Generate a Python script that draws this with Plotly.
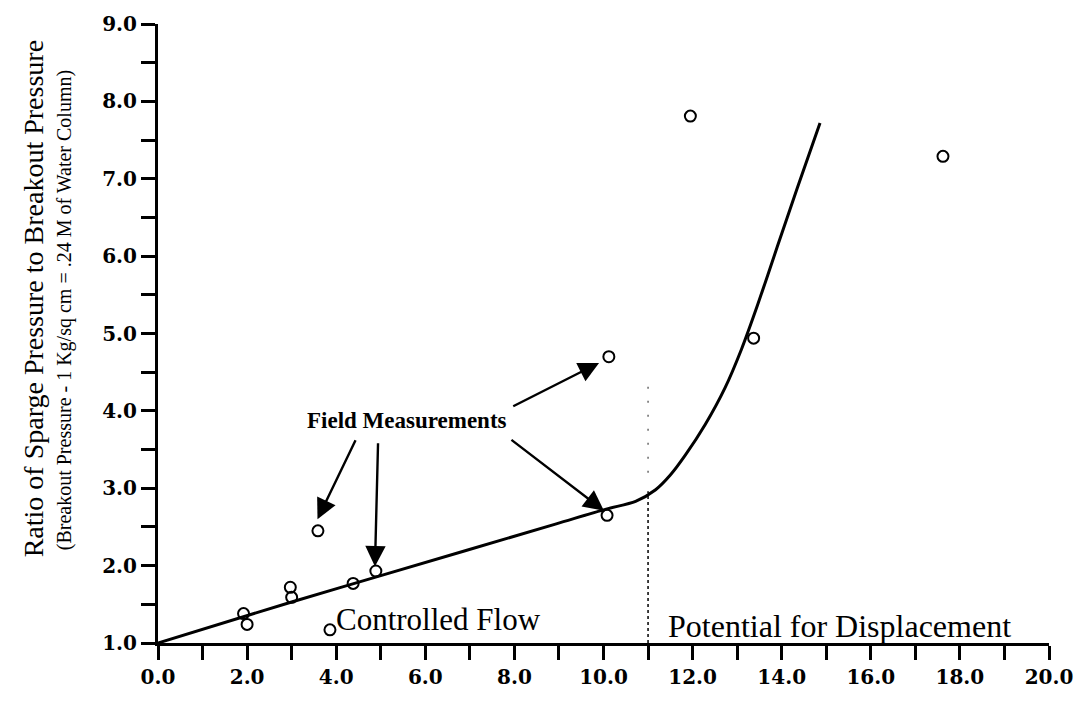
import plotly.graph_objects as go

# Field measurement points (open circles)
meas_x = [1.92, 2.0, 2.97, 3.0, 3.59, 3.86, 4.38, 4.89, 10.08, 10.12, 11.95, 13.37, 17.62]
meas_y = [1.38, 1.24, 1.72, 1.59, 2.45, 1.17, 1.77, 1.93, 2.65, 4.70, 7.81, 4.94, 7.29]

# Fitted curve
curve_x = [0.0, 3.0, 5.0, 8.94, 10.06, 10.72, 11.17, 11.5, 11.84, 12.28, 12.73, 13.1, 13.46, 13.9, 14.35, 14.86]
curve_y = [1.0, 1.53, 1.87, 2.54, 2.73, 2.83, 2.98, 3.17, 3.43, 3.82, 4.30, 4.80, 5.37, 6.12, 6.88, 7.72]

# Boundary between regions
boundary_x = 11.0
boundary_y_low = [1.0, 2.96]
boundary_y_high = [3.2, 4.45]

# Arrows: (tail_x, tail_y, head_x, head_y)
arrow_tail_x = [4.45, 4.94, 7.90, 7.94]
arrow_tail_y = [3.64, 3.60, 3.64, 4.05]
arrow_head_x = [3.58, 4.87, 10.01, 9.90]
arrow_head_y = [2.60, 1.99, 2.71, 4.62]

x_ticks = [0, 2, 4, 6, 8, 10, 12, 14, 16, 18, 20]
y_ticks = [1, 2, 3, 4, 5, 6, 7, 8, 9]

serif = "Liberation Serif, Times New Roman, serif"
tickfont = dict(family="DejaVu Serif, serif", size=20, color="black", weight="bold")

fig = go.Figure()

fig.add_trace(go.Scatter(
    x=[boundary_x, boundary_x], y=boundary_y_low, mode="lines",
    line=dict(color="black", width=1.5, dash="dot"), showlegend=False, hoverinfo="skip"))
fig.add_trace(go.Scatter(
    x=[boundary_x, boundary_x], y=boundary_y_high, mode="lines",
    line=dict(color="#444444", width=1.2, dash="2px,12px"), showlegend=False, hoverinfo="skip"))

fig.add_trace(go.Scatter(
    x=curve_x, y=curve_y, mode="lines",
    line=dict(color="black", width=3, shape="spline", smoothing=0.8),
    showlegend=False, hoverinfo="skip"))

fig.add_trace(go.Scatter(
    x=meas_x, y=meas_y, mode="markers",
    marker=dict(symbol="circle-open", size=11, color="black", line=dict(width=2)),
    cliponaxis=False, showlegend=False))

for tx, ty, hx, hy in zip(arrow_tail_x, arrow_tail_y, arrow_head_x, arrow_head_y):
    fig.add_annotation(
        x=hx, y=hy, ax=tx, ay=ty, xref="x", yref="y", axref="x", ayref="y",
        text="", showarrow=True, arrowhead=2, arrowsize=1.7, arrowwidth=2.4,
        arrowcolor="black", standoff=0, startstandoff=0)

fig.add_annotation(x=5.6, y=3.88, xref="x", yref="y", text="<b>Field Measurements</b>",
                   showarrow=False, font=dict(family=serif, size=23, color="black"))
fig.add_annotation(x=6.3, y=1.31, xref="x", yref="y", text="Controlled Flow",
                   showarrow=False, font=dict(family=serif, size=31, color="black"))
fig.add_annotation(x=15.3, y=1.22, xref="x", yref="y", text="Potential for Displacement",
                   showarrow=False, font=dict(family=serif, size=32, color="black"))

# Y-axis titles (two lines, different sizes)
fig.add_annotation(x=0, y=(643 - 296) / 625, xref="paper", yref="paper", xshift=33 - 158,
                   xanchor="center", yanchor="middle",
                   text="Ratio of Sparge Pressure to Breakout Pressure", textangle=-90,
                   showarrow=False, font=dict(family=serif, size=28, color="black"))
fig.add_annotation(x=0, y=(643 - 307) / 625, xref="paper", yref="paper", xshift=64 - 158,
                   xanchor="center", yanchor="middle",
                   text="(Breakout Pressure - 1 Kg/sq cm = .24 M of Water Column)", textangle=-90,
                   showarrow=False, font=dict(family=serif, size=20, color="black"))

# small extension of the y-axis line below the x-axis
fig.add_shape(type="line", xref="x", yref="paper", x0=0, x1=0, y0=0, y1=-0.022,
              line=dict(color="black", width=3))

fig.update_xaxes(
    range=[0, 20], tickvals=x_ticks, ticktext=[f"{v:.1f}" for v in x_ticks],
    showline=True, linecolor="black", linewidth=3, showgrid=False, zeroline=False,
    ticks="outside", ticklen=14, tickwidth=3, tickcolor="black", tickfont=tickfont,
    minor=dict(dtick=1, ticks="outside", ticklen=14, tickwidth=3, tickcolor="black"))
fig.update_yaxes(
    range=[1, 9], tickvals=y_ticks, ticktext=[f"{v:.1f}" for v in y_ticks],
    showline=True, linecolor="black", linewidth=3, showgrid=False, zeroline=False,
    ticks="outside", ticklen=14, tickwidth=2.5, tickcolor="black", tickfont=tickfont,
    minor=dict(dtick=0.5, ticks="outside", ticklen=14, tickwidth=2.5, tickcolor="black"))

fig.update_layout(
    width=1085, height=703, margin=dict(l=158, r=28, t=18, b=60),
    plot_bgcolor="white", paper_bgcolor="white", showlegend=False)

fig.write_html("out.html")
